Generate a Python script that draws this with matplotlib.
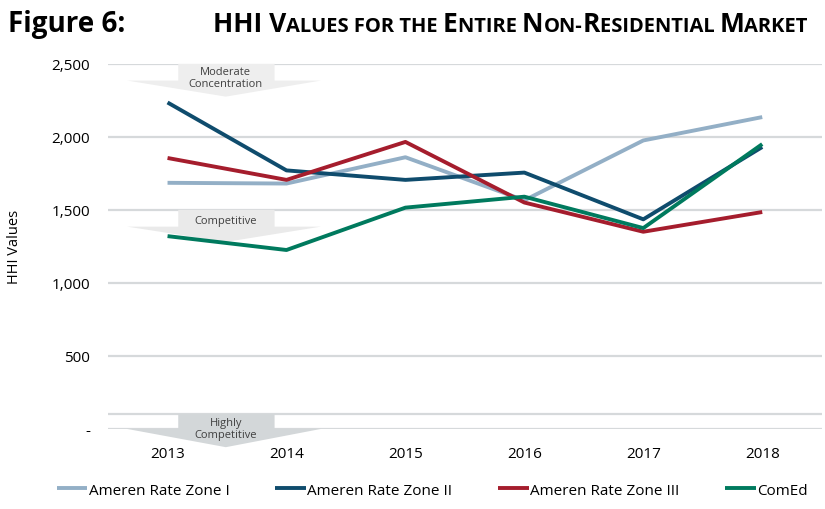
import matplotlib
matplotlib.use('Agg')
import matplotlib.pyplot as plt
from matplotlib.patches import Polygon

years = ['2013', '2014', '2015', '2016', '2017', '2018']
zone1 = [1685, 1680, 1860, 1565, 1975, 2135]
zone2 = [2235, 1770, 1705, 1755, 1435, 1930]
zone3 = [1855, 1705, 1965, 1550, 1350, 1485]
comed = [1320, 1225, 1515, 1590, 1375, 1950]
series_names = ['Ameren Rate Zone I', 'Ameren Rate Zone II', 'Ameren Rate Zone III', 'ComEd']
colors = ['#93afc6', '#0f4c6d', '#a51d2d', '#007a5e']
yticks = [0, 500, 1000, 1500, 2000, 2500]
ytick_labels = ['-', '500', '1,000', '1,500', '2,000', '2,500']

plt.rcParams['font.family'] = ['Open Sans', 'DejaVu Sans']

fig = plt.figure(figsize=(8.25, 5.10), dpi=100)
ax = fig.add_axes([0.131, 0.157, 0.865, 0.716])

x = list(range(len(years)))
# grid lines (plus the HHI=100 threshold line)
for yv in yticks + [100]:
    ax.axhline(yv, color='#d6d9db', lw=1.6, zorder=1)

# band markers: (rect top, head base, apex, label, label y, colour)
bands = [(2500, 2385, 2275, 'Moderate\nConcentration', 2408, '#eeeeee'),
         (1500, 1385, 1280, 'Competitive', 1425, '#eaeaea'),
         (100, 0, -125, 'Highly\nCompetitive', 5, '#d3d7d9')]
for top, base, apex, label, ly, col in bands:
    shape = [(0.09, top), (0.90, top), (0.90, base), (1.29, base), (0.49, apex),
             (-0.34, base), (0.09, base)]
    ax.add_patch(Polygon(shape, closed=True, facecolor=col, edgecolor='none',
                         zorder=2, clip_on=False))
    ax.text(0.49, ly, label, ha='center', va='center',
            fontsize=8, color='#404040', zorder=3, linespacing=1.15)

for vals, name, c in zip([zone1, zone2, zone3, comed], series_names, colors):
    ax.plot(x, vals, color=c, lw=2.8, label=name, zorder=4, solid_capstyle='butt')

ax.set_xlim(-0.5, 5.5)
ax.set_ylim(0, 2500)
ax.set_xticks(x)
ax.set_xticklabels(years, fontsize=11)
ax.set_yticks(yticks)
ax.set_yticklabels(ytick_labels, fontsize=11)
ax.tick_params(length=0, pad=13)
ax.tick_params(axis='x', pad=12)
for s in ax.spines.values():
    s.set_visible(False)
ax.set_ylabel('HHI Values', fontsize=10.5, labelpad=21)

fig.legend(loc='lower center', bbox_to_anchor=(0.524, -0.005), ncol=4, frameon=False,
           fontsize=11, handlelength=2.0, handletextpad=0.1, columnspacing=3.0)

# title with small caps
fig.text(0.01, 0.937, 'Figure 6:', fontsize=20, fontweight='bold', va='baseline')
segments = [('HHI V', 19), ('ALUES FOR THE ', 14.5), ('E', 19), ('NTIRE ', 14.5),
            ('N', 19), ('ON-', 14.5), ('R', 19), ('ESIDENTIAL ', 14.5),
            ('M', 19), ('ARKET', 14.5)]
fig.canvas.draw()
renderer = fig.canvas.get_renderer()
xpos = 0.258
for txt, size in segments:
    t = fig.text(xpos, 0.937, txt, fontsize=size, fontweight='bold', va='baseline')
    w = t.get_window_extent(renderer).width
    xpos += w / fig.bbox.width

fig.savefig('out.png', dpi=100)
